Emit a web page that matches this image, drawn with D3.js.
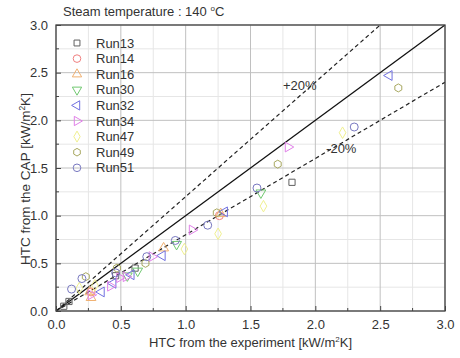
<!DOCTYPE html>
<html>
<head>
<meta charset="utf-8">
<script src="https://cdn.jsdelivr.net/npm/d3@7"></script>
<style>
  body { margin: 0; background: #fff; }
  text { font-family: "Liberation Sans", Arial, sans-serif; fill: #333; }
</style>
</head>
<body>
<div id="chart"></div>
<script>
// series: [experiment, CAP]
var run13 = [[0.06, 0.05], [0.10, 0.10], [0.46, 0.37], [0.61, 0.45], [1.82, 1.35]];
var run14 = [[0.27, 0.20], [1.26, 1.00]];
var run16 = [[0.26, 0.20], [0.27, 0.14], [0.83, 0.66], [1.27, 1.02]];
var run30 = [[0.55, 0.37], [0.63, 0.42], [0.93, 0.70], [1.58, 1.24]];
var run32 = [[0.35, 0.20], [0.44, 0.29], [0.58, 0.38], [0.82, 0.58], [1.30, 1.04], [2.57, 2.47]];
var run34 = [[0.27, 0.17], [0.42, 0.26], [0.49, 0.35], [0.54, 0.36], [0.74, 0.57], [1.05, 0.85], [1.79, 1.72]];
var run47 = [[0.18, 0.24], [0.30, 0.27], [0.99, 0.65], [1.25, 0.81], [1.60, 1.10], [2.21, 1.87]];
var run49 = [[0.23, 0.36], [0.47, 0.45], [0.69, 0.50], [1.24, 1.03], [1.71, 1.54], [2.64, 2.34]];
var run51 = [[0.12, 0.23], [0.20, 0.34], [0.46, 0.40], [0.70, 0.57], [0.92, 0.74], [1.17, 0.90], [1.55, 1.29], [2.30, 1.93]];

var runNames = ["Run13", "Run14", "Run16", "Run30", "Run32", "Run34", "Run47", "Run49", "Run51"];
var runData = [run13, run14, run16, run30, run32, run34, run47, run49, run51];
var runColors = ["#606060", "#f08080", "#f0b070", "#70c870", "#7070e0", "#e080e8", "#f0f090", "#a8a860", "#7878c0"];
var runShapes = ["square", "circle", "up", "down", "left", "right", "diamond", "hexagon", "circle"];

var ticks = [0.0, 0.5, 1.0, 1.5, 2.0, 2.5, 3.0];
var minorTicks = [0.25, 0.75, 1.25, 1.75, 2.25, 2.75];
var bandFactors = [1.2, 0.8];

var margin = { top: 25, right: 15, bottom: 47, left: 56 },
  width = 460 - margin.left - margin.right,
  height = 358 - margin.top - margin.bottom;

var x = d3.scaleLinear().domain([0, 3]).range([0, width]);
var y = d3.scaleLinear().domain([0, 3]).range([height, 0]);

var root = d3.select("#chart").append("svg")
  .attr("width", 460)
  .attr("height", 358);

var svg = root.append("g")
  .attr("transform", "translate(" + margin.left + "," + margin.top + ")");

svg.append("clipPath").attr("id", "clip")
  .append("rect").attr("width", width).attr("height", height);

// grid
var grid = svg.append("g");
grid.selectAll(".minx").data(minorTicks).enter().append("line")
  .attr("x1", x).attr("x2", x).attr("y1", 0).attr("y2", height)
  .attr("stroke", "#e6e6e6").attr("stroke-width", 1);
grid.selectAll(".miny").data(minorTicks).enter().append("line")
  .attr("y1", y).attr("y2", y).attr("x1", 0).attr("x2", width)
  .attr("stroke", "#e6e6e6").attr("stroke-width", 1);
grid.selectAll(".majx").data(ticks).enter().append("line")
  .attr("x1", x).attr("x2", x).attr("y1", 0).attr("y2", height)
  .attr("stroke", "#c0c0c0").attr("stroke-width", 1);
grid.selectAll(".majy").data(ticks).enter().append("line")
  .attr("y1", y).attr("y2", y).attr("x1", 0).attr("x2", width)
  .attr("stroke", "#c0c0c0").attr("stroke-width", 1);

// reference lines
var plot = svg.append("g").attr("clip-path", "url(#clip)");
plot.append("line")
  .attr("x1", x(0)).attr("y1", y(0)).attr("x2", x(3)).attr("y2", y(3))
  .attr("stroke", "#111").attr("stroke-width", 1.3);
plot.selectAll(".band").data(bandFactors).enter().append("line")
  .attr("x1", x(0)).attr("y1", y(0))
  .attr("x2", x(3)).attr("y2", function (f) { return y(3 * f); })
  .attr("stroke", "#222").attr("stroke-width", 1.2)
  .attr("stroke-dasharray", "4,3");

svg.append("text").attr("x", x(1.88)).attr("y", y(2.37) + 4.5)
  .attr("text-anchor", "middle").style("font-size", "13px").text("+20%");
svg.append("text").attr("x", x(2.2)).attr("y", y(1.70) + 4.5)
  .attr("text-anchor", "middle").style("font-size", "13px").text("-20%");

// symbols
function symbolPath(shape, r) {
  if (shape === "circle") return d3.symbol().type(d3.symbolCircle).size(Math.PI * r * r)();
  if (shape === "square") return d3.symbol().type(d3.symbolSquare).size(r * r * 2.4)();
  if (shape === "diamond") return d3.symbol().type(d3.symbolDiamond).size(r * r * 2.4)();
  if (shape === "hexagon") {
    var pts = d3.range(6).map(function (i) {
      var a = Math.PI / 6 + i * Math.PI / 3;
      return [r * Math.cos(a), r * Math.sin(a)];
    });
    return "M" + pts.join("L") + "Z";
  }
  return d3.symbol().type(d3.symbolTriangle).size(r * r * 2.6)();
}
function symbolRotate(shape) {
  if (shape === "down") return 180;
  if (shape === "left") return -90;
  if (shape === "right") return 90;
  return 0;
}

runData.forEach(function (series, k) {
  svg.append("g").selectAll("path").data(series).enter().append("path")
    .attr("d", symbolPath(runShapes[k], 4))
    .attr("transform", function (d) {
      return "translate(" + x(d[0]) + "," + y(d[1]) + ") rotate(" + symbolRotate(runShapes[k]) + ")";
    })
    .attr("fill", "none")
    .attr("stroke", runColors[k])
    .attr("stroke-width", 1);
});

// frame
svg.append("rect").attr("width", width).attr("height", height)
  .attr("fill", "none").attr("stroke", "#444").attr("stroke-width", 1.3);

// axes
var xAxis = d3.axisBottom(x).tickValues(ticks).tickFormat(d3.format(".1f")).tickSizeInner(-5).tickSizeOuter(0).tickPadding(9);
var yAxis = d3.axisLeft(y).tickValues(ticks).tickFormat(d3.format(".1f")).tickSizeInner(-5).tickSizeOuter(0).tickPadding(8);

var gx = svg.append("g").attr("transform", "translate(0," + height + ")").call(xAxis);
var gy = svg.append("g").call(yAxis);
[gx, gy].forEach(function (g) {
  g.select(".domain").remove();
  g.selectAll("line").attr("stroke", "#444");
  g.selectAll("text").style("font-size", "13px").style("fill", "#333")
    .style("font-family", "'Liberation Sans', Arial, sans-serif");
});
svg.append("g").attr("transform", "translate(0," + height + ")")
  .selectAll("line").data(minorTicks).enter().append("line")
  .attr("x1", x).attr("x2", x).attr("y1", 0).attr("y2", -3).attr("stroke", "#444");
svg.append("g").selectAll("line").data(minorTicks).enter().append("line")
  .attr("y1", y).attr("y2", y).attr("x1", 0).attr("x2", 3).attr("stroke", "#444");

// legend
var legend = svg.selectAll(".legend").data(runNames).enter().append("g")
  .attr("transform", function (d, i) { return "translate(21," + (18 + i * 15.6) + ")"; });
legend.append("path")
  .attr("d", function (d, i) { return symbolPath(runShapes[i], 3.8); })
  .attr("transform", function (d, i) { return "rotate(" + symbolRotate(runShapes[i]) + ")"; })
  .attr("fill", "none")
  .attr("stroke", function (d, i) { return runColors[i]; });
legend.append("text").attr("x", 19).attr("y", 4.5)
  .style("font-size", "13px").text(function (d) { return d; });

// titles
var title = root.append("text").attr("x", 63).attr("y", 16).style("font-size", "13px");
title.append("tspan").text("Steam temperature : 140 ");
title.append("tspan").attr("dy", -5).style("font-size", "8px").text("o");
title.append("tspan").attr("dy", 5).text("C");

var xl = root.append("text").attr("x", margin.left + width / 2).attr("y", 347)
  .attr("text-anchor", "middle").style("font-size", "13px");
xl.append("tspan").text("HTC from the experiment [kW/m");
xl.append("tspan").attr("dy", -5).style("font-size", "8px").text("2");
xl.append("tspan").attr("dy", 5).text("K]");

var yl = root.append("text")
  .attr("transform", "translate(30,179) rotate(-90)")
  .attr("text-anchor", "middle").style("font-size", "13.5px");
yl.append("tspan").text("HTC from the CAP [kW/m");
yl.append("tspan").attr("dy", -5).style("font-size", "8.5px").text("2");
yl.append("tspan").attr("dy", 5).text("K]");
</script>
</body>
</html>
